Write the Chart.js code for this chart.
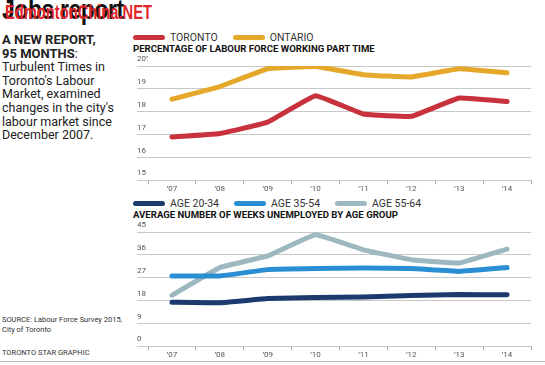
<!DOCTYPE html>
<html>
<head>
<meta charset="utf-8">
<script src="https://cdn.jsdelivr.net/npm/chart.js@4/dist/chart.umd.min.js"></script>
<style>
  body { margin: 0; background: #fff; width: 545px; height: 365px; overflow: hidden; position: relative; font-family: Roboto, sans-serif; }
  #title { position: absolute; left: 2px; top: -6px; font: bold 28px "Liberation Sans", sans-serif; color: #111; letter-spacing: -0.5px; transform: scaleX(0.82); transform-origin: left top; }
  #mark { position: absolute; left: 5px; top: 0px; font: bold 21px "Liberation Sans", sans-serif; color: #e0262b; transform: scaleX(0.7); transform-origin: left top; white-space: nowrap; }
  #intro { position: absolute; left: 2px; top: 33px; width: 130px; font-size: 12.5px; line-height: 13.6px; color: #222; }
  #intro b { font-size: 13px; }
  #source { position: absolute; left: 2px; top: 315px; font-size: 7.5px; line-height: 10px; color: #333; }
  #credit { position: absolute; left: 2px; top: 348px; font-size: 7.5px; color: #333; }
  #rule { position: absolute; left: 0; top: 361px; width: 545px; height: 1px; background: #bbb; }
  .box { position: absolute; left: 130px; width: 415px; }
  .legend { position: absolute; left: 133px; font-size: 10.5px; color: #333; display: flex; align-items: center; white-space: nowrap; }
  .legend i { display: inline-block; width: 32px; height: 5px; border-radius: 3px; margin-right: 5px; }
  .legend span { margin-right: 15px; display: flex; align-items: center; }
  .ctitle { position: absolute; left: 133px; font-size: 9.6px; font-weight: bold; color: #111; white-space: nowrap; }
</style>
</head>
<body>
<div id="title">Jobs report</div>
<div id="mark">EdmontonChina.NET</div>
<div id="intro"><b>A NEW REPORT,<br>95 MONTHS</b>:<br>Turbulent Times in Toronto's Labour Market, examined changes in the city's labour market since December 2007.</div>
<div id="source">SOURCE: Labour Force Survey 2015,<br>City of Toronto</div>
<div id="credit">TORONTO STAR GRAPHIC</div>
<div id="rule"></div>

<div class="legend" id="legTop" style="top:31px"></div>
<div class="ctitle" style="top:43px">PERCENTAGE OF LABOUR FORCE WORKING PART TIME</div>
<div class="box" style="top:56px;height:140px"><canvas id="top"></canvas></div>

<div class="legend" id="legBottom" style="top:197px"></div>
<div class="ctitle" style="top:209px">AVERAGE NUMBER OF WEEKS UNEMPLOYED BY AGE GROUP</div>
<div class="box" style="top:222px;height:140px"><canvas id="bottom"></canvas></div>
<script>
const years = ['’07', '’08', '’09', '’10', '’11', '’12', '’13', '’14'];

// part-time share, %
const toronto = [16.9, 17.05, 17.55, 18.7, 17.9, 17.8, 18.6, 18.45];
const ontario = [18.55, 19.1, 19.88, 19.98, 19.62, 19.52, 19.88, 19.7];

// weeks unemployed
const age2034 = [17.4, 17.2, 18.8, 19.2, 19.4, 20.0, 20.4, 20.3];
const age3554 = [27.7, 27.7, 30.2, 30.6, 30.8, 30.6, 29.5, 31.0];
const age5564 = [20.1, 31.0, 35.6, 43.9, 38.0, 34.1, 32.8, 38.3];

const pctTicks = [15, 16, 17, 18, 19, 20];
const weekTicks = [0, 9, 18, 27, 36, 45];

function line(label, data, color) {
    return {
        label: label,
        data: data,
        borderColor: color,
        backgroundColor: color,
        borderWidth: 5,
        pointRadius: 0,
        tension: 0.08,
        borderJoinStyle: 'round',
        borderCapStyle: 'round'
    };
}

// html legend built from the chart's own datasets
function legend(chart, id) {
    const el = document.getElementById(id);
    chart.data.datasets.forEach(ds => {
        const item = document.createElement('span');
        item.innerHTML = '<i style="background:' + ds.borderColor + '"></i>' + ds.label;
        el.appendChild(item);
    });
}

function makeChart(id, datasets, min, max, step, fmt) {
    return new Chart(document.getElementById(id), {
        type: 'line',
        data: { labels: years, datasets: datasets },
        options: {
            responsive: true,
            maintainAspectRatio: false,
            animation: false,
            layout: { padding: { left: 7, right: 14, top: 10, bottom: 2 } },
            plugins: {
                legend: { display: false },
                tooltip: { enabled: false }
            },
            scales: {
                x: {
                    offset: true,
                    grid: { offset: true, drawOnChartArea: false, drawTicks: true, tickLength: 4, color: '#aaa' },
                    border: { display: false },
                    ticks: { color: '#555', font: { family: 'Roboto', size: 8 }, padding: 0, maxRotation: 0 }
                },
                y: {
                    min: min,
                    max: max,
                    afterFit: scale => { scale.width = 11; },
                    grid: { color: '#c8c8c8', tickLength: 11, lineWidth: 1 },
                    border: { display: false },
                    ticks: {
                        stepSize: step,
                        color: '#555',
                        font: { family: 'Roboto', size: 8 },
                        padding: 0,
                        crossAlign: 'far',
                        labelOffset: -7,
                        callback: fmt
                    }
                }
            }
        }
    });
}

const topChart = makeChart('top',
    [line('TORONTO', toronto, '#c8323c'), line('ONTARIO', ontario, '#e6a82b')],
    pctTicks[0], pctTicks[pctTicks.length - 1], 1,
    v => v === 20 ? '20%' : v);
legend(topChart, 'legTop');

const bottomChart = makeChart('bottom',
    [line('AGE 20-34', age2034, '#1b3a6e'), line('AGE 35-54', age3554, '#2a8fd2'), line('AGE 55-64', age5564, '#9db8c1')],
    weekTicks[0], weekTicks[weekTicks.length - 1], 9,
    v => v);
legend(bottomChart, 'legBottom');
</script>
</body>
</html>
